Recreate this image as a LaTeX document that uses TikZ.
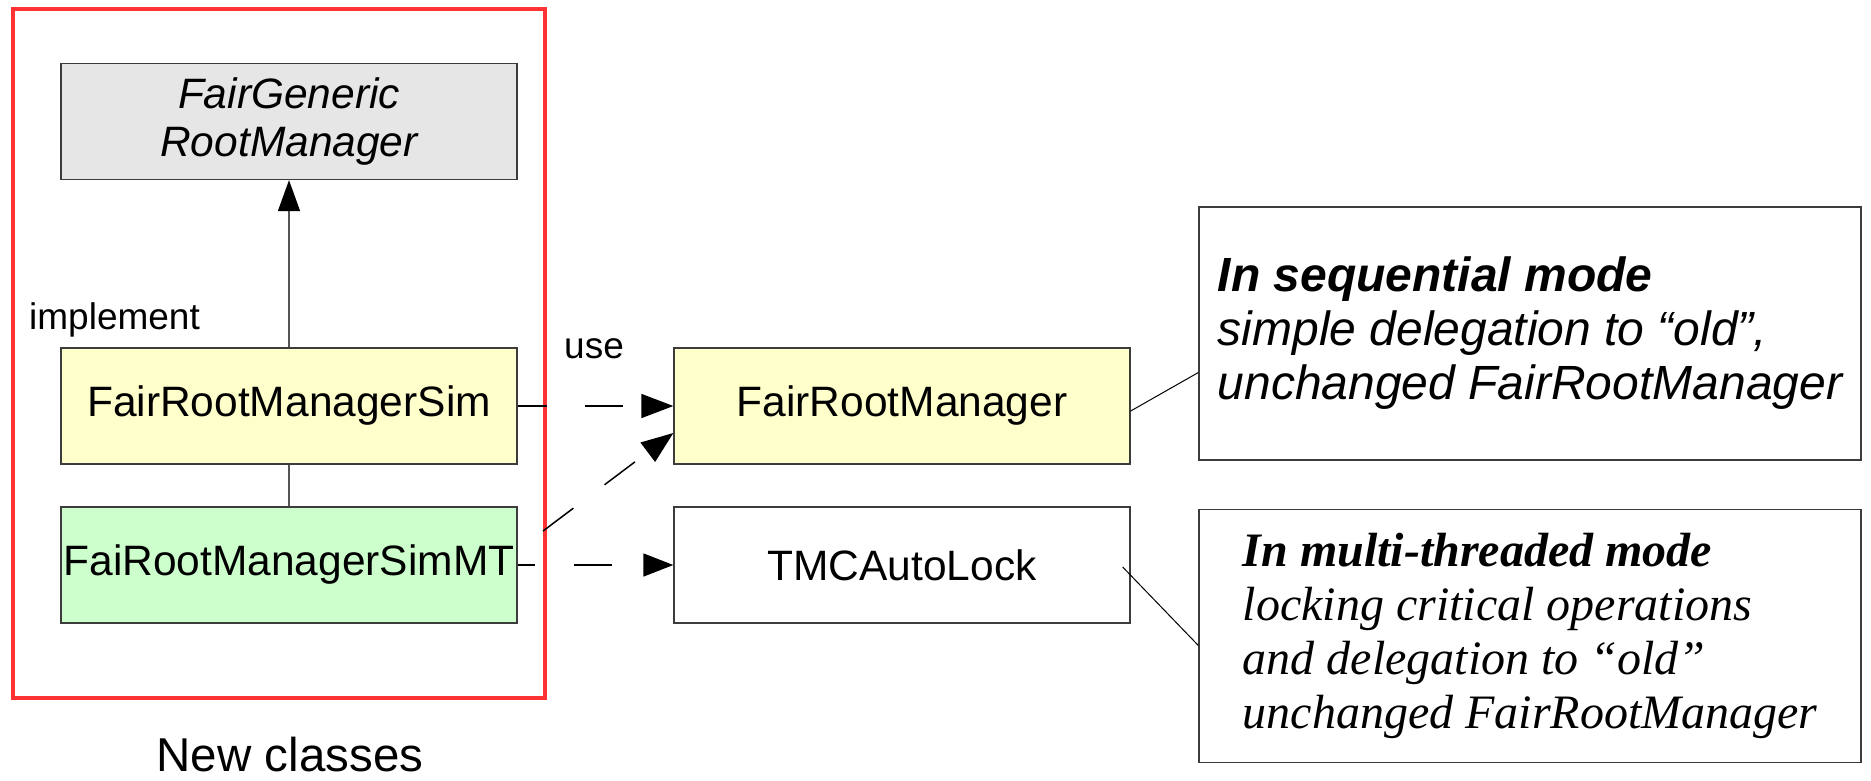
\documentclass[tikz,border=0pt]{standalone}
\usepackage{fontspec}
\setmainfont{Liberation Sans}
\newfontfamily\serifit{Liberation Serif}
\usetikzlibrary{arrows.meta,calc}
\definecolor{fggray}{HTML}{E6E6E6}
\definecolor{simyellow}{HTML}{FFFFCC}
\definecolor{simgreen}{HTML}{CCFFCC}
\definecolor{redframe}{HTML}{FF3333}
\definecolor{edge}{HTML}{3C3C3C}
\definecolor{conn}{HTML}{555555}
\tikzset{
  classbox/.style={draw=edge, line width=1.3pt, rectangle, minimum width=456pt, minimum height=116pt, inner sep=2pt, align=center, font=\fontsize{42.5}{47}\selectfont},
  notebox/.style={draw=edge, line width=1.3pt, rectangle, minimum width=662pt, minimum height=253pt, inner sep=2pt, align=left},
  usearrow/.style={draw=black, line width=1.5pt, -{Triangle[length=32pt,width=24pt]}},
  noteline/.style={draw=black, line width=1pt},
  lbl/.style={inner sep=0pt, font=\fontsize{37}{42}\selectfont}
}
\begin{document}
\begin{tikzpicture}[x=1pt,y=-1pt]
\useasboundingbox (0,0) rectangle (1871,780);
% red frame
\draw[redframe, line width=4pt] (12.5,9) rectangle (545,698);
\node[inner sep=0pt, anchor=base, font=\fontsize{47.5}{52}\selectfont] (newcl) at (290,771) {New classes};
% classes
\node[classbox, fill=fggray, font=\fontsize{42.5}{48}\selectfont\itshape] (FG) at (289,121.5) {FairGeneric\\RootManager};
\node[classbox, fill=simyellow] (Sim) at (289,406) {FairRootManagerSim};
\node[classbox, fill=simgreen] (SimMT) at (289,565) {FaiRootManagerSimMT};
\node[classbox, fill=simyellow] (FRM) at (902,406) {FairRootManager};
\node[classbox, fill=white] (TMC) at (902,565) {TMCAutoLock};
% labels
\node[lbl, anchor=base west] (impl) at (29,329) {implement};
\node[lbl, anchor=base] (use) at (594,358) {use};
% notes
\node[notebox, font=\fontsize{48}{54}\selectfont\itshape] (Seq) at (1530,333.5)
  {\bfseries In sequential mode\\simple delegation to “old”,\\unchanged FairRootManager};
\node[notebox, font=\serifit\fontsize{48}{54}\selectfont\itshape] (MT) at (1530,636)
  {\bfseries In multi-threaded mode\\locking critical operations\\and delegation to “old”\\unchanged FairRootManager};
% connectors
\draw[conn, line width=1.5pt, -{Triangle[length=31pt,width=22pt,color=black]}] (Sim.north) -- (FG.south);
\draw[conn, line width=1.5pt] (Sim.south) -- (SimMT.north);
\draw[usearrow, dash pattern=on 38pt off 38pt, dash phase=9pt] (Sim.east) -- (FRM.west);
\coordinate (d0) at (543,531);
\draw[usearrow, dash pattern=on 38pt off 39pt] (d0) -- ($(FRM.west)+(0,27)$);
\draw[usearrow, dash pattern=on 38pt off 39pt, dash phase=21pt, -{Triangle[length=30pt,width=23pt]}] (SimMT.east) -- (TMC.west);
\draw[noteline] ($(FRM.east)+(0,5)$) -- ($(Seq.west)+(0,39)$);
\draw[noteline] ($(TMC.east)+(-8,2)$) -- ($(MT.west)+(0,9.5)$);
\end{tikzpicture}
\end{document}
